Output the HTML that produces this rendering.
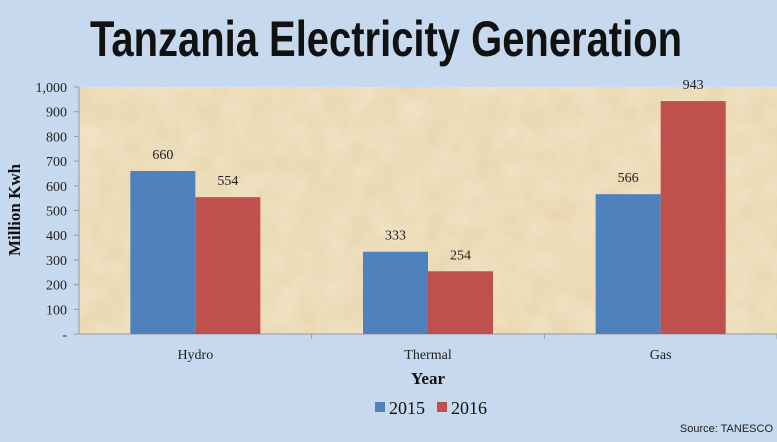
<!DOCTYPE html>
<html><head><meta charset="utf-8"><style>
body{margin:0;width:777px;height:437px;background:#c6d9ef;overflow:hidden;font-family:"Liberation Serif",serif}
</style></head><body>
<svg width="777" height="437">
<defs>
<filter id="tex" x="0" y="0" width="100%" height="100%">
<feTurbulence type="fractalNoise" baseFrequency="0.04" numOctaves="4" seed="3"/>
<feColorMatrix type="matrix" values="0 0 0 0 0.93  0 0 0 0 0.85  0 0 0 0 0.68  0 0 0 -0.9 0.9"/>
</filter>
</defs>
<text x="386" y="56" text-anchor="middle" font-family="Liberation Sans Narrow, Liberation Sans, sans-serif" font-weight="bold" font-size="50" fill="#111" textLength="592" lengthAdjust="spacingAndGlyphs">Tanzania Electricity Generation</text>
<rect x="79" y="87" width="698" height="247" fill="#e8d5ad"/>
<rect x="79" y="87" width="698" height="247" fill="#f2e4c2" filter="url(#tex)" opacity="0.7"/>
<g id="axes"></g>
<g id="bars"></g>
<text x="20" y="210" transform="rotate(-90 20 210)" text-anchor="middle" font-weight="bold" font-size="17" fill="#111">Million Kwh</text>
<text x="428" y="384" text-anchor="middle" font-weight="bold" font-size="17" fill="#111">Year</text>
<g>
<rect x="375" y="402" width="10" height="10" fill="#4f81bd"/>
<text x="389" y="414" font-size="18" fill="#111">2015</text>
<rect x="437" y="402" width="10" height="10" fill="#c0504d"/>
<text x="451" y="414" font-size="18" fill="#111">2016</text>
</g>
<text x="773" y="432" text-anchor="end" font-family="Liberation Sans Narrow, Liberation Sans, sans-serif" font-size="11" fill="#222">Source: TANESCO</text>
</svg>
<script>
const categories=["Hydro","Thermal","Gas"];
const series2015=[660,333,566];
const series2016=[554,254,943];
const yTicks=[0,100,200,300,400,500,600,700,800,900,1000];
const yTickLabels=["-","100","200","300","400","500","600","700","800","900","1,000"];
const ns="http://www.w3.org/2000/svg";
const x0=79,x1=777,yTop=87,yBot=334,yMax=1000;
const y=v=>yBot-(v/yMax)*(yBot-yTop);
const bandW=(x1-x0)/categories.length;
const bw=65;
function mk(t,a,p){const e=document.createElementNS(ns,t);for(const k in a)e.setAttribute(k,a[k]);p.appendChild(e);return e;}
const ax=document.getElementById('axes'),bg=document.getElementById('bars');
const yl=mk('line',{x1:x0,y1:yTop,x2:x0,y2:yBot,stroke:'#999'},ax);


yTicks.forEach((v,i)=>{
 const t=mk('line',{x1:x0-5,y1:y(v),x2:x0,y2:y(v),stroke:'#999'},ax);
 
 
 const l=mk('text',{x:x0-12,y:y(v)+5,'text-anchor':'end','font-size':'14',fill:'#222'},ax);
 l.textContent=yTickLabels[i];
 
 
});
const xl=mk('line',{x1:x0,y1:yBot,x2:x1,y2:yBot,stroke:'#999'},ax);


categories.forEach((c,i)=>{
 const cx=x0+bandW*(i+0.5);
 const tk=mk('line',{x1:x0+bandW*(i+1),y1:yBot,x2:x0+bandW*(i+1),y2:yBot+5,stroke:'#999'},ax);
 
 
 const l=mk('text',{x:cx,y:yBot+25,'text-anchor':'middle','font-size':'14',fill:'#222'},ax);
 l.textContent=c;
 
 
 [[series2015,'#4f81bd',cx-bw,'2015'],[series2016,'#c0504d',cx,'2016']].forEach(([s,col,bx,yr])=>{
  const r=mk('rect',{x:bx,y:y(s[i]),width:bw,height:yBot-y(s[i]),fill:col},bg);
  
  
  const vl=mk('text',{x:bx+bw/2,y:y(s[i])-12,'text-anchor':'middle','font-size':'14',fill:'#222'},bg);
  vl.textContent=s[i];
  
  
 });
});
</script>
</body></html>
